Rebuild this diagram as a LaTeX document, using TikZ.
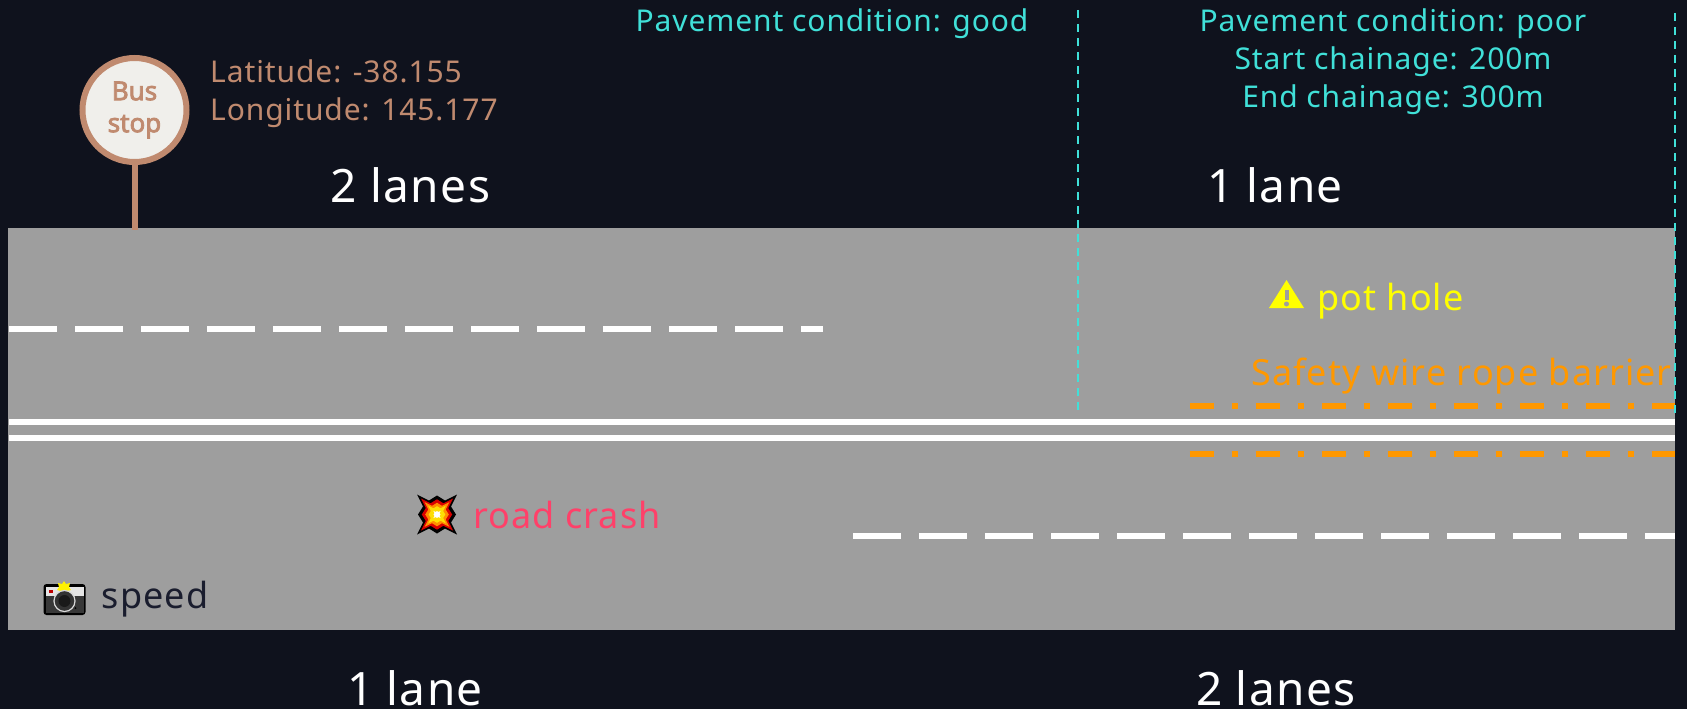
\documentclass[tikz,border=0pt]{standalone}
\usepackage{fontspec}
\setmainfont[LetterSpace=3]{Noto Sans}
\newfontfamily\stopfont[FakeBold=3]{Noto Sans}
\usetikzlibrary{arrows.meta,calc}
\definecolor{roadbackground}{HTML}{0F121D}
\definecolor{roadsurface}{HTML}{9E9E9E}
\definecolor{roadteal}{HTML}{40E0D8}
\definecolor{roadstop}{HTML}{C08A6F}
\definecolor{roadstopfill}{HTML}{F0EFEB}
\definecolor{roadorange}{HTML}{FF9800}
\definecolor{roadyellow}{HTML}{FFFF00}
\definecolor{roadcrash}{HTML}{FF4069}
\definecolor{roadspeed}{HTML}{1A1D2E}
\newcommand{\crashstar}{(-20,-20) -- (-8,-14) -- (0,-19) -- (8,-14) -- (20,-20) -- (14,-8) -- (19,0) -- (14,8) -- (20,20) -- (8,14) -- (0,19) -- (-8,14) -- (-20,20) -- (-14,8) -- (-19,0) -- (-14,-8) -- cycle}
\tikzset{
  x=1pt, y=-1pt,
  road marking/.style={draw=white, line width=6pt},
  road dashes/.style={road marking, dash pattern=on 48pt off 18pt},
  road barrier/.style={
    draw=roadorange, line width=6pt,
    dash pattern=on 24pt off 18pt on 6pt off 18pt
  },
  road section/.style={
    draw=roadteal, line width=2pt,
    dash pattern=on 8pt off 6pt
  },
  road lanes/.style={
    font=\fontsize{46}{54}\selectfont, text=white,
    inner sep=0pt, anchor=base
  },
  road note/.style={
    font=\fontsize{30}{38}\selectfont, text=roadteal,
    inner sep=0pt, align=center, anchor=base
  },
  road hazard/.style={
    font=\fontsize{36}{40}\selectfont,
    inner sep=0pt, anchor=base west
  },
  stop sign/.style={
    circle, draw=roadstop, fill=roadstopfill, line width=6pt,
    minimum size=104pt, inner sep=0pt, text=roadstop, align=center,
    font=\fontsize{26}{32}\selectfont\stopfont
  }
}
\begin{document}
\begin{tikzpicture}
  \useasboundingbox[fill=roadbackground] (0,0) rectangle (1687,709);
  \fill[roadsurface] (8,228) rectangle (1675,630);

  \coordinate (upperstart) at (9,329);
  \coordinate (upperend) at (823,329);
  \coordinate (lowerstart) at (853,536);
  \coordinate (lowerend) at (1675,536);
  \draw[road dashes] (upperstart) -- (upperend);
  \draw[road dashes] (lowerstart) -- (lowerend);

  \coordinate (lineonestart) at (9,421.5);
  \coordinate (lineoneend) at (1675,421.5);
  \coordinate (linetwostart) at (9,437.5);
  \coordinate (linetwoend) at (1675,437.5);
  \draw[road marking] (lineonestart) -- (lineoneend);
  \draw[road marking] (linetwostart) -- (linetwoend);

  \coordinate (barriertopstart) at (1189.5,405.5);
  \coordinate (barriertopend) at (1675,405.5);
  \coordinate (barrierbotstart) at (1189.5,453.5);
  \coordinate (barrierbotend) at (1675,453.5);
  \draw[road barrier] (barriertopstart) -- (barriertopend);
  \draw[road barrier] (barrierbotstart) -- (barrierbotend);

  \coordinate (sectiononetop) at (1077.7,10);
  \coordinate (sectiononebot) at (1077.7,410);
  \coordinate (sectiontwotop) at (1675,13);
  \coordinate (sectiontwobot) at (1675,413);
  \draw[road section] (sectiononetop) -- (sectiononebot);
  \draw[road section] (sectiontwotop) -- (sectiontwobot);

  \node[stop sign] (stop) at (134.5,110) {Bus\\stop};
  \coordinate (stopfoot) at (134.5,230);
  \draw[draw=roadstop,line width=6pt] (stop.south) -- (stopfoot);
  \node[road hazard,font=\fontsize{30}{38}\selectfont,text=roadstop,align=left] (stopinfo) at (210,120) {Latitude: -38.155\\Longitude: 145.177};

  \node[road note] (goodnote) at (832,32) {Pavement condition: good};
  \node[road note] (poornote) at (1393,107.3) {Pavement condition: poor\\Start chainage: 200m\\End chainage: 300m};

  \node[road lanes] (topleft) at (410.5,202.7) {2 lanes};
  \node[road lanes] (topright) at (1275,202.7) {1 lane};
  \node[road lanes] (botleft) at (415,705) {1 lane};
  \node[road lanes] (botright) at (1276,705) {2 lanes};

  % pot hole
  \fill[roadyellow] (1286.5,280) -- (1304,308) -- (1269,308) -- cycle;
  \fill[roadsurface] (1284.5,290) rectangle (1288.5,300);
  \fill[roadsurface] (1286.5,304) circle (2.5);
  \node[road hazard,text=roadyellow] (pothole) at (1317,310) {pot hole};
  \node[road hazard,text=roadorange] (barrier) at (1251,385.7) {Safety wire rope barrier};

  % road crash
  \begin{scope}[shift={(437,514.5)}]
    \fill[black] \crashstar;
    \fill[red!85!black,scale=0.8] \crashstar;
    \fill[orange!90!yellow,scale=0.62] \crashstar;
    \fill[yellow!80!orange,scale=0.44] \crashstar;
    \fill[white,scale=0.18] \crashstar;
  \end{scope}
  \node[road hazard,text=roadcrash] (crash) at (473,528) {road crash};

  % speed camera
  \fill[black,rounded corners=3pt] (43.5,584) rectangle (85.5,615);
  \fill[black!78] (45.5,596) rectangle (83.5,613);
  \fill[black!10] (45.5,587) rectangle (83.5,596);
  \fill[red!75!black] (49,589.5) rectangle (52.5,593);
  \fill[yellow] (64,581) -- (66,584) -- (70,583) -- (69,587) -- (71,590) -- (67,591) -- (64,594) -- (61,591) -- (57,590) -- (59,587) -- (58,583) -- (62,584) -- cycle;
  \fill[black!80,draw=black!15,line width=1.2pt] (64.5,601) circle (10.5);
  \fill[black!90] (64.5,601) circle (6);
  \fill[black] (75.5,608) circle (1);
  \node[road hazard,text=roadspeed] (speed) at (101.5,608) {speed};
\end{tikzpicture}
\end{document}
